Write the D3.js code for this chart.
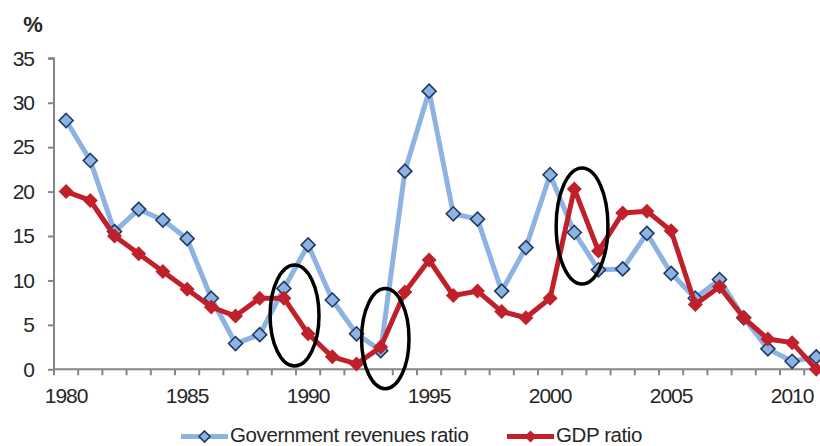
<!DOCTYPE html>
<html>
<head>
<meta charset="utf-8">
<script src="https://cdn.jsdelivr.net/npm/d3@7"></script>
<style>
  html, body { margin: 0; padding: 0; background: #fff; }
  svg { display: block; }
  text { font-family: "Liberation Sans", Arial, sans-serif; fill: #262626; }
</style>
</head>
<body>
<svg id="chart" width="820" height="446"></svg>
<script>
// ---- data ----
const years = d3.range(1980, 2012);
const govRevenues = [28.0, 23.5, 15.5, 18.0, 16.8, 14.7, 8.0, 2.9, 3.9, 9.1,
                     14.0, 7.8, 4.0, 2.1, 22.3, 31.3, 17.5, 16.9, 8.8, 13.7,
                     21.9, 15.4, 11.2, 11.3, 15.3, 10.8, 8.0, 10.1, 5.8, 2.3,
                     0.9, 1.4];
const gdpRatio = [20.0, 19.0, 15.0, 13.0, 11.0, 9.0, 7.0, 6.0, 8.0, 8.0,
                  4.0, 1.4, 0.6, 2.5, 8.7, 12.3, 8.3, 8.8, 6.5, 5.8,
                  8.0, 20.3, 13.3, 17.6, 17.8, 15.6, 7.3, 9.3, 5.8, 3.4,
                  3.0, 0.0];
const yTicks = [0, 5, 10, 15, 20, 25, 30, 35];
const xLabelYears = [1980, 1985, 1990, 1995, 2000, 2005, 2010];
const seriesNames = ["Government revenues ratio", "GDP ratio"];
const yUnit = "%";
// highlighted spots (year centre, value centre, half-width in years, half-height in %)
const highlightYears = [1989.44, 1993.19, 2001.32];
const highlightValues = [6.05, 3.45, 16.13];
const highlightHalfYears = [1.01, 0.98, 1.07];
const highlightHalfValues = [5.68, 5.63, 6.53];

// ---- layout ----
const svg = d3.select("#chart");
const plotLeft = 54, plotBottom = 369.3, plotTop = 58.3;
const step = 24.2;

const x = d3.scaleBand().domain(years).range([plotLeft, plotLeft + step * years.length]).padding(0);
const xc = yr => x(yr) + x.bandwidth() / 2;
const xYear = d3.scaleLinear().domain([1980, 1981]).range([xc(1980), xc(1981)]);
const y = d3.scaleLinear().domain([0, 35]).range([plotBottom, plotTop]);

const blue = "#8db3e2", navy = "#1f3b63", red = "#c0202a", axisCol = "#868686";

// y axis
const yAxis = d3.axisLeft(y).tickValues(yTicks).tickSize(6).tickPadding(14);
const gy = svg.append("g").attr("transform", `translate(${plotLeft},0)`).call(yAxis);
gy.select(".domain").attr("stroke", axisCol).attr("stroke-width", 2).attr("d", `M-6,${plotTop}H0V${plotBottom}`);
gy.selectAll(".tick line").attr("stroke", axisCol).attr("stroke-width", 2);
gy.selectAll(".tick text").attr("font-size", 21).attr("letter-spacing", -1)
  .attr("font-family", '"Liberation Sans", Arial, sans-serif').attr("fill", "#262626");

// x axis
const gx = svg.append("g");
gx.append("line").attr("x1", plotLeft).attr("x2", x.range()[1]).attr("y1", plotBottom).attr("y2", plotBottom)
  .attr("stroke", axisCol).attr("stroke-width", 2);
const boundaries = years.map(yr => x(yr)).concat([x.range()[1]]);
gx.selectAll("line.tk").data(boundaries).join("line").attr("class", "tk")
  .attr("x1", d => d).attr("x2", d => d).attr("y1", plotBottom).attr("y2", plotBottom + 6)
  .attr("stroke", axisCol).attr("stroke-width", 2);
gx.selectAll("text").data(xLabelYears).join("text")
  .attr("x", d => xc(d)).attr("y", 403.3).attr("text-anchor", "middle")
  .attr("font-size", 21).attr("letter-spacing", -1).text(d => d);

// unit label
svg.append("text").attr("x", 33).attr("y", 31.5).attr("text-anchor", "middle")
  .attr("font-size", 22).attr("font-weight", "bold").text(yUnit);

function diamondPath(r) { return `M0,${-r}L${r},0L0,${r}L${-r},0Z`; }

const line = d3.line().x((d, i) => xc(years[i])).y(d => y(d));

// blue series
svg.append("path").datum(govRevenues).attr("d", line).attr("fill", "none")
  .attr("stroke", blue).attr("stroke-width", 5).attr("stroke-linejoin", "round");
svg.selectAll("path.bm").data(govRevenues).join("path").attr("class", "bm")
  .attr("d", diamondPath(7)).attr("transform", (d, i) => `translate(${xc(years[i])},${y(d)})`)
  .attr("fill", blue).attr("stroke", navy).attr("stroke-width", 1.6);

// red series
svg.append("path").datum(gdpRatio).attr("d", line).attr("fill", "none")
  .attr("stroke", red).attr("stroke-width", 5).attr("stroke-linejoin", "round");
svg.selectAll("path.rm").data(gdpRatio).join("path").attr("class", "rm")
  .attr("d", diamondPath(7.5)).attr("transform", (d, i) => `translate(${xc(years[i])},${y(d)})`)
  .attr("fill", red);

// highlight ellipses
svg.selectAll("ellipse").data(highlightYears).join("ellipse")
  .attr("cx", d => xYear(d))
  .attr("cy", (d, i) => y(highlightValues[i]))
  .attr("rx", (d, i) => xYear(d + highlightHalfYears[i]) - xYear(d))
  .attr("ry", (d, i) => y(0) - y(highlightHalfValues[i]))
  .attr("fill", "none").attr("stroke", "#000").attr("stroke-width", 3.5);

// legend
const leg = svg.append("g");
const legY = 436.5;
leg.append("line").attr("x1", 181).attr("x2", 228).attr("y1", legY).attr("y2", legY)
  .attr("stroke", blue).attr("stroke-width", 5);
leg.append("path").attr("d", diamondPath(5.5)).attr("transform", `translate(204.5,${legY})`)
  .attr("fill", blue).attr("stroke", navy).attr("stroke-width", 1.6);
leg.append("text").attr("x", 230).attr("y", 441.5).attr("font-size", 20.5).attr("letter-spacing", -0.4).text(seriesNames[0]);
leg.append("line").attr("x1", 507).attr("x2", 554).attr("y1", legY).attr("y2", legY)
  .attr("stroke", red).attr("stroke-width", 5);
leg.append("path").attr("d", diamondPath(6)).attr("transform", `translate(530.5,${legY})`).attr("fill", red);
leg.append("text").attr("x", 556).attr("y", 441.5).attr("font-size", 20.5).attr("letter-spacing", -0.4).text(seriesNames[1]);
</script>
</body>
</html>
